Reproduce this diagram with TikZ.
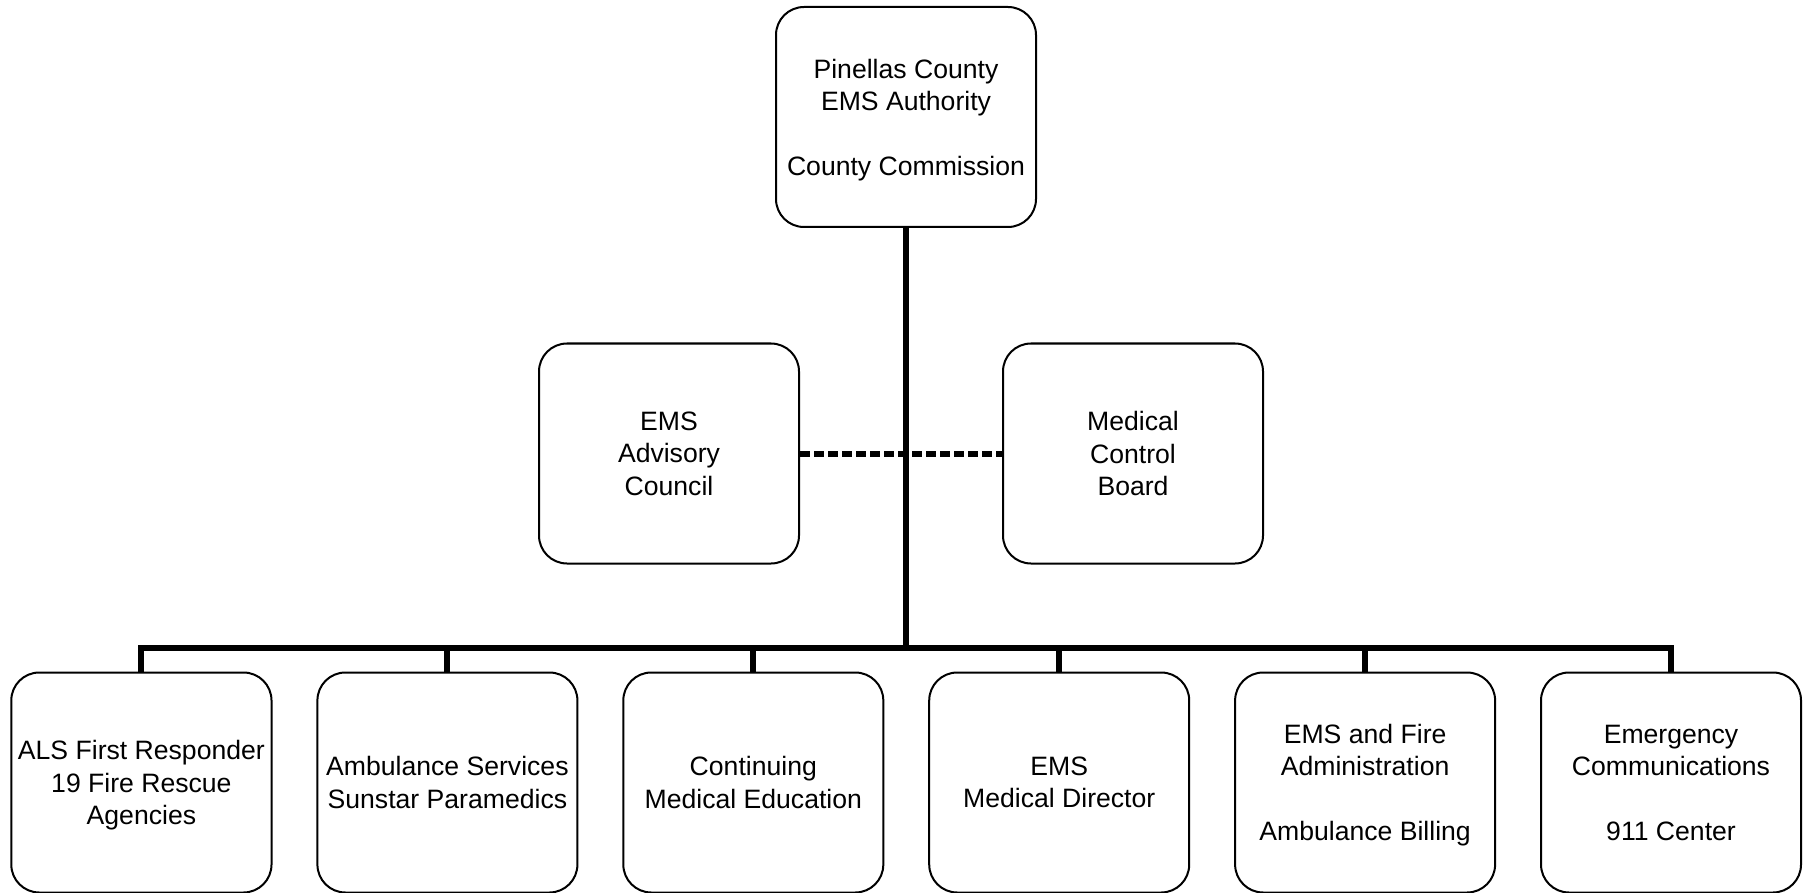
\documentclass[tikz,border=0pt]{standalone}
\usepackage{fontspec}
\setmainfont{Liberation Sans}
\usetikzlibrary{positioning}

\begin{document}
\begin{tikzpicture}[
x=0.5pt, y=-0.5pt,
node distance=21.95pt,
box/.style={draw,
rectangle,
rounded corners=14pt,
line width=1pt,
minimum width=130pt,
minimum height=110pt,
align=center,
text depth=-4pt,
font={\fontsize{13.3}{16.2}\selectfont}},
link/.style={line width=3pt},
dotlink/.style={line width=3pt, dash pattern=on 5pt off 2pt}
]

\useasboundingbox (0,0) rectangle (1810,893);

\node[box] (authority) at (906,117) {Pinellas County\\EMS Authority\\[16.2pt]County Commission};
\node[box] (advisory) at (669,453.5) {EMS\\Advisory\\Council};
\node[box] (control) at (1133,453.5) {Medical\\Control\\Board};

\node[box] (als) at (141.4,782.5) {ALS First Responder\\19 Fire Rescue\\Agencies};
\node[box, right=of als] (ambulance) {Ambulance Services\\Sunstar Paramedics};
\node[box, right=of ambulance] (education) {Continuing\\Medical Education};
\node[box, right=of education] (director) {EMS\\Medical Director};
\node[box, right=of director] (admin) {EMS and Fire\\Administration\\[16.2pt]Ambulance Billing};
\node[box, right=of admin] (comms) {Emergency\\Communications\\[16.2pt]911 Center};

\coordinate (bar) at (906,647.6);

\draw[dotlink] (advisory) -- (control);
\draw[link] (authority) -- (bar);

\draw[link] (bar) -| (als);
\draw[link] (bar) -| (ambulance);
\draw[link] (bar) -| (education);
\draw[link] (bar) -| (director);
\draw[link] (bar) -| (admin);
\draw[link] (bar) -| (comms);

\end{tikzpicture}
\end{document}
